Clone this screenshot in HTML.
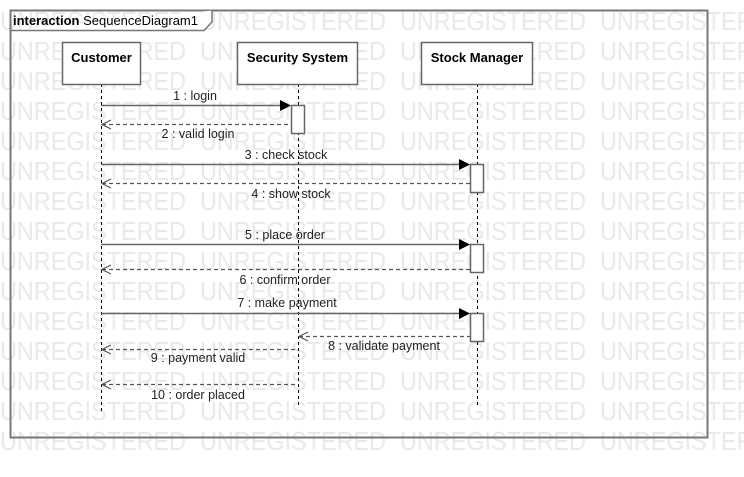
<!DOCTYPE html>
<html><head><meta charset="utf-8"><style>
html,body{margin:0;padding:0;background:#fff;}
svg{display:block;}
</style></head><body>
<svg width="744" height="477" viewBox="0 0 744 477" xmlns="http://www.w3.org/2000/svg" font-family="Liberation Sans, sans-serif">
<defs>
<pattern id="wm" x="0" y="0" width="200" height="30" patternUnits="userSpaceOnUse">
<text x="0" y="30" font-size="26" fill="#e9e9e9" textLength="186" lengthAdjust="spacingAndGlyphs">UNREGISTERED</text>
</pattern>
</defs>
<rect x="0" y="0" width="744" height="455" fill="url(#wm)"/>
<!-- frame -->
<rect x="10.5" y="10.5" width="697" height="427" fill="none" stroke="#777" stroke-width="2"/>
<path d="M10.5 30.5 H204 L212 22 V10.5" fill="#fff" stroke="#777" stroke-width="1.5"/>
<text x="13" y="25" font-size="13" fill="#000"><tspan font-weight="bold">interaction</tspan> SequenceDiagram1</text>
<!-- lifelines -->
<g stroke="#000" stroke-width="1" stroke-dasharray="3,3">
<line x1="101.5" y1="84" x2="101.5" y2="412"/>
<line x1="298.5" y1="84" x2="298.5" y2="405"/>
<line x1="477.5" y1="84" x2="477.5" y2="405"/>
</g>
<!-- heads -->
<g fill="#fff" stroke="#666" stroke-width="1.5">
<rect x="62.5" y="42.5" width="78" height="42"/>
<rect x="237.5" y="42.5" width="120" height="42"/>
<rect x="421.5" y="42.5" width="111" height="42"/>
</g>
<g font-size="13" font-weight="bold" text-anchor="middle" fill="#000">
<text x="101.5" y="62">Customer</text>
<text x="297.5" y="62">Security System</text>
<text x="477" y="62">Stock Manager</text>
</g>
<!-- activations -->
<g fill="#fff" stroke="#666" stroke-width="1.5">
<rect x="291.5" y="105.5" width="13" height="28"/>
<rect x="470.5" y="164.5" width="13" height="28"/>
<rect x="470.5" y="244.5" width="13" height="28"/>
<rect x="470.5" y="313.5" width="13" height="28"/>
</g>
<!-- sync messages -->
<g stroke="#666" stroke-width="1.5">
<line x1="101" y1="105.5" x2="282" y2="105.5"/>
<line x1="101" y1="164.5" x2="461" y2="164.5"/>
<line x1="101" y1="244.5" x2="461" y2="244.5"/>
<line x1="101" y1="313.5" x2="461" y2="313.5"/>
</g>
<g fill="#000">
<polygon points="280,100 291,105.5 280,111"/>
<polygon points="459,159 470,164.5 459,170"/>
<polygon points="459,239 470,244.5 459,250"/>
<polygon points="459,308 470,313.5 459,319"/>
</g>
<!-- returns -->
<g stroke="#555" stroke-width="1.3" stroke-dasharray="4,3" fill="none">
<line x1="102" y1="124.5" x2="291" y2="124.5"/>
<line x1="102" y1="183.5" x2="470" y2="183.5"/>
<line x1="102" y1="269.5" x2="470" y2="269.5"/>
<line x1="299" y1="336.5" x2="470" y2="336.5"/>
<line x1="102" y1="349.5" x2="298" y2="349.5"/>
<line x1="102" y1="384.5" x2="298" y2="384.5"/>
</g>
<g stroke="#555" stroke-width="1.2" fill="none">
<polyline points="111,120 102,124.5 111,129"/>
<polyline points="111,179 102,183.5 111,188"/>
<polyline points="111,265 102,269.5 111,274"/>
<polyline points="308,332 299,336.5 308,341"/>
<polyline points="111,345 102,349.5 111,354"/>
<polyline points="111,380 102,384.5 111,389"/>
</g>
<g font-size="12.5" fill="#222" text-anchor="middle">
<text x="195" y="100">1 : login</text>
<text x="198" y="138">2 : valid login</text>
<text x="286" y="159">3 : check stock</text>
<text x="291" y="198">4 : show stock</text>
<text x="285" y="239">5 : place order</text>
<text x="285" y="284">6 : confirm order</text>
<text x="287" y="307">7 : make payment</text>
<text x="384" y="350">8 : validate payment</text>
<text x="198" y="362">9 : payment valid</text>
<text x="198" y="399">10 : order placed</text>
</g>
</svg>
</body></html>
